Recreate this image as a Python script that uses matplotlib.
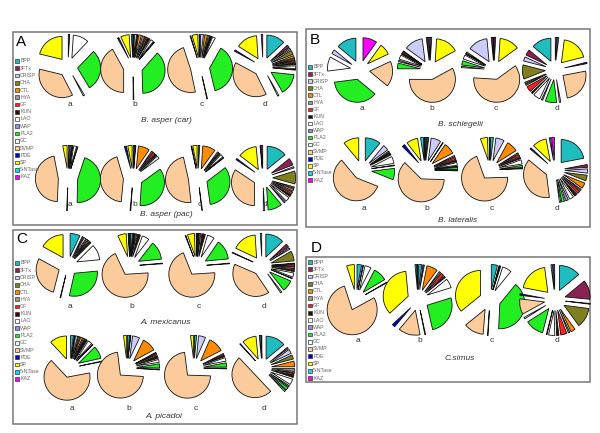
import matplotlib
matplotlib.use('Agg')
import matplotlib.pyplot as plt
from matplotlib.patches import Rectangle

plt.rcParams['font.family'] = ['Liberation Sans', 'DejaVu Sans']

W, H = 600, 433

categories = ['BPP', '3FTx', 'CRISP', 'CHA', 'CTL', 'HYA', 'GF', 'KUN', 'LAO',
              'WAP', 'PLA2', 'GC', 'SVMP', 'PDE', 'SP', '5-NTase', 'KAZ']
cat_colors = ['#1FBDBF', '#8B2252', '#CCCCFF', '#7F7F1F', '#FF8C00', '#999999',
              '#FF2020', '#2A1200', '#FFFFFF', '#9090E0', '#22EE22', '#E8FFFF',
              '#FCCB9C', '#0000CC', '#FFFF00', '#00E0F0', '#FF00FF']
sample_labels = ['a', 'b', 'c', 'd']

# values per venom, in the order of `categories`
#              BPP 3FTx CRISP CHA CTL HYA GF KUN LAO WAP PLA2 GC SVMP PDE SP 5NT KAZ
asper_car_a = [0, 0, 0, 0, 0, 0, 0, 1, 11, 0, 29, 1, 36, 0, 21, 0, 0]
asper_car_b = [0, 0.5, 1.5, 0.5, 2, 1.5, 1, 2, 2, 0.5, 38, 0.5, 42, 1, 6, 1, 0]
asper_car_c = [0, 0, 2, 0, 2, 1, 0.5, 0.5, 2, 0, 38, 0.5, 48, 0.5, 4, 0.5, 0]
asper_car_d = [13, 2, 1, 3, 1.5, 1, 1, 1.5, 2, 0.5, 15, 1, 40, 1, 15, 0, 1]
asper_pac_a = [0, 0, 1, 0, 0, 1, 0, 0.5, 2, 0.5, 45, 0.5, 46, 0, 3, 0, 0]
asper_pac_b = [0, 1, 0.5, 0, 8, 1, 1.5, 1, 2, 0, 36, 0.5, 44, 1.5, 3, 0, 0]
asper_pac_c = [0, 0, 0, 1, 9, 1, 0, 1, 2, 0.5, 33, 0.5, 48, 0.5, 3, 0, 0]
asper_pac_d = [14, 5, 1, 9, 1, 1.5, 1.5, 1.5, 3, 1, 10, 1, 34, 1, 13, 0.5, 1]

schlegelii_a = [14, 0, 3, 0, 0, 0, 0, 0, 10, 0, 37, 0, 18, 0, 8, 0, 10]
schlegelii_b = [1, 1, 13, 0, 0, 0.5, 1, 0.5, 3, 1, 4, 0, 58, 0, 16, 0, 1]
schlegelii_c = [0.5, 1, 14, 0, 0, 1, 0, 0.5, 3, 0, 3, 1, 61, 0, 14, 0, 1]
schlegelii_d = [14, 4, 3, 10, 1, 1, 4, 1, 5, 1, 8, 1, 25, 1, 19, 1, 1]
lateralis_a = [11, 0, 4, 1, 0, 0.5, 0, 1, 5, 0.5, 8, 0, 58, 0, 11, 0, 0]
lateralis_b = [1, 1, 7, 0.5, 8, 1, 1.5, 1, 2, 0.5, 1.5, 0.5, 62, 2, 8, 2, 0.5]
lateralis_c = [2, 0, 6, 0, 8, 1, 1.5, 1, 3, 0, 1.5, 0.5, 70, 0, 5, 0.5, 0]
lateralis_d = [22, 2, 3, 4, 4, 1, 2, 2, 3, 2, 2, 1, 38, 1, 10, 1, 2]

mexicanus_a = [7, 1, 1.5, 0, 1, 1, 0, 1, 11, 0, 30, 0.5, 29, 0, 17, 0, 0]
mexicanus_b = [1.5, 0.5, 0.5, 0, 0, 1, 0, 2, 5, 0, 13, 0.5, 69, 0, 6, 0.5, 0.5]
mexicanus_c = [0.5, 0, 0.5, 0, 0, 1, 0, 2.5, 5, 0, 14, 0.5, 70, 0.5, 5, 0.5, 0]
mexicanus_d = [13, 2.5, 1, 7, 0.5, 1, 1.5, 1.5, 3, 0.5, 8, 1, 41, 0.5, 17, 1, 0]
picadoi_a = [2, 0.5, 1.5, 1, 1.5, 1, 0.5, 1, 3, 0.5, 9, 0.5, 66, 0, 12, 0, 0]
picadoi_b = [1.5, 0.5, 5, 0, 10, 0.5, 1, 2, 2, 0, 3, 0.5, 72, 0, 2, 0, 0]
picadoi_c = [1.5, 0, 5, 0, 11, 0, 1, 1, 2.5, 0, 3, 0.5, 72.5, 0, 2, 0, 0]
picadoi_d = [14, 1, 3, 3, 4, 2, 1, 2, 4, 1, 2, 1, 50, 0.5, 10, 1, 0.5]

simus_a = [3, 0, 0, 0, 0, 0, 0, 0.5, 4, 0, 9, 0.5, 78, 0, 5, 0, 0]
simus_b = [2, 1, 0, 0, 7, 1, 2, 1, 6, 0, 26, 0.5, 14, 2, 35, 1, 0.5]
simus_c = [4, 0, 0, 0, 0, 0.5, 0, 0.5, 6, 0, 40, 0.5, 13, 0, 36, 0, 0]
simus_d = [14, 12.5, 0.5, 13, 3, 1, 4, 1.5, 4, 0.5, 12, 1, 10, 1, 20, 1, 1]

fig = plt.figure(figsize=(6.0, 4.33), dpi=100)
ax = fig.add_axes([0, 0, 1, 1])


def Y(y):
    return H - y


def draw_pie(vals, cx, cy, r, ccw):
    v = [x for x in vals if x > 0]
    c = [col for x, col in zip(vals, cat_colors) if x > 0]
    ax.pie(v, colors=c, center=(cx, Y(cy)), radius=r,
           explode=[0.42 * r] * len(v), startangle=90, counterclock=ccw,
           frame=True, wedgeprops=dict(edgecolor='#111111', linewidth=0.6))


def draw_box(x0, y0, x1, y1, letter, lx, ly):
    ax.add_patch(Rectangle((x0, Y(y1)), x1 - x0, y1 - y0, fill=False,
                           edgecolor='#777777', linewidth=1.1, zorder=0))
    ax.text(lx, Y(ly), letter, fontsize=11, ha='left', va='top', color='black')


def draw_legend(mx, y_first, y_last):
    n = len(categories)
    step = (y_last - y_first) / (n - 1)
    for i, (name, col) in enumerate(zip(categories, cat_colors)):
        yy = y_first + i * step
        ax.add_patch(Rectangle((mx, Y(yy) - 1.8), 3.6, 3.6, facecolor=col,
                               edgecolor='#333333', linewidth=0.5))
        ax.text(mx + 5.2, Y(yy), name, fontsize=3.8, ha='left', va='center',
                color='#666666')


def draw_row(pies, xs, cy, label_y, r, ccw):
    for vals, x, lab in zip(pies, xs, sample_labels):
        draw_pie(vals, x, cy, r, ccw)
        ax.text(x + 2, Y(label_y), lab, fontsize=6, ha='center', va='center',
                color='#333333')


def title(x, y, s):
    ax.text(x, Y(y), s, fontsize=6, style='italic', ha='center', va='center',
            color='#333333')


# Panel A
draw_box(13, 32, 297, 225, 'A', 16, 35)
draw_legend(15, 61, 177)
draw_row([asper_car_a, asper_car_b, asper_car_c, asper_car_d],
         [68, 133, 200, 263], 67, 104, 23, False)
title(166, 121, 'B. asper (car)')
draw_row([asper_pac_a, asper_pac_b, asper_pac_c, asper_pac_d],
         [68, 133, 198, 263], 178, 205, 23, False)
title(166, 214, 'B. asper (pac)')

# Panel B
draw_box(306, 29, 590, 227, 'B', 310, 33)
draw_legend(308, 67, 180)
draw_row([schlegelii_a, schlegelii_b, schlegelii_c, schlegelii_d],
         [360, 430, 494, 555], 70, 108, 23, True)
title(460, 124, 'B. schlegelii')
draw_row([lateralis_a, lateralis_b, lateralis_c, lateralis_d],
         [362, 425, 490, 555], 170, 208, 23, False)
title(458, 220, 'B. lateralis')

# Panel C
draw_box(13, 230, 297, 424, 'C', 16, 232)
draw_legend(15, 263, 379)
draw_row([mexicanus_a, mexicanus_b, mexicanus_c, mexicanus_d],
         [68, 130, 197, 262], 266, 307, 23, False)
title(166, 323, 'A. mexicanus')
draw_row([picadoi_a, picadoi_b, picadoi_c, picadoi_d],
         [70, 127, 194, 262], 368, 408, 23, False)
title(164, 417, 'A. picadoi')

# Panel D
draw_box(306, 257, 590, 382, 'D', 311, 241)
draw_legend(308, 262, 378)
draw_row([simus_a, simus_b, simus_c, simus_d],
         [356, 418, 490, 555], 300, 340, 25, False)
title(460, 358, 'C.simus')

ax.set_xlim(0, W)
ax.set_ylim(0, H)
ax.set_aspect('auto')
ax.axis('off')
fig.savefig('out.png', dpi=100, facecolor='white')
